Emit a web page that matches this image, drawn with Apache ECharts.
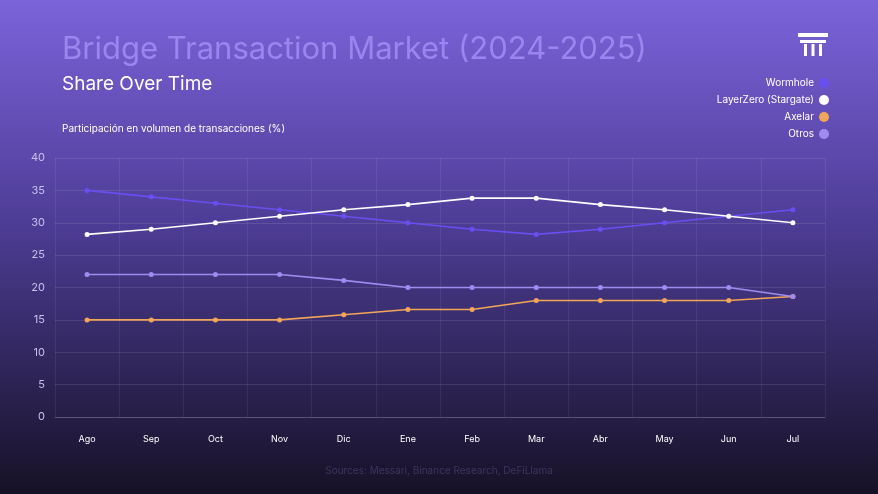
<!DOCTYPE html>
<html><head><meta charset="utf-8">
<script src="https://cdn.jsdelivr.net/npm/echarts@6/dist/echarts.min.js"></script>
<style>html,body{margin:0;padding:0;}#c{width:878px;height:494px;}</style>
</head><body><div id="c"></div>
<script>
const categories=['Ago','Sep','Oct','Nov','Dic','Ene','Feb','Mar','Abr','May','Jun','Jul'];
const wormhole=[35,34,33,32,31,30,29,28.2,29,30,31,32];
const layerzero=[28.2,29,30,31,32,32.8,33.8,33.8,32.8,32,31,30];
const axelar=[15,15,15,15,15.8,16.6,16.6,18,18,18,18,18.6];
const otros=[22,22,22,22,21.1,20,20,20,20,20,20,18.6];
const names=['Wormhole','LayerZero (Stargate)','Axelar','Otros'];
const colors=['#6a4ff0','#ffffff','#f2a65a','#a08cf0'];
const data=[wormhole,layerzero,axelar,otros];
const chart=echarts.init(document.getElementById('c'));
const ff='Inter';
chart.setOption({
  backgroundColor:new echarts.graphic.LinearGradient(0,0,0,1,[{offset:0,color:'#7b63da'},{offset:0.45,color:'#4e3d96'},{offset:1,color:'#161126'}]),
  textStyle:{fontFamily:ff},
  title:[
    {text:'Bridge Transaction Market (2024-2025)',left:57,top:29,textStyle:{color:'#9a86ee',fontSize:31,fontWeight:'normal',fontFamily:ff}},
    {text:'Share Over Time',left:57,top:70,textStyle:{color:'#ffffff',fontSize:19,fontWeight:'normal',fontFamily:ff}},
    {text:'Participación en volumen de transacciones (%)',left:57,top:119,textStyle:{color:'#ffffff',fontSize:10,fontWeight:'normal',fontFamily:ff}},
    {text:'Sources: Messari, Binance Research, DeFiLlama',left:'center',top:461,textStyle:{color:'#3e3560',fontSize:10,fontWeight:'normal',fontFamily:ff}}
  ],
  legend:{orient:'vertical',right:44,top:73,align:'right',icon:'circle',itemWidth:10,itemHeight:10,itemGap:7,
    textStyle:{color:'#ffffff',fontSize:10,fontFamily:ff},data:names},
  graphic:[
    {type:'rect',shape:{x:798,y:33,width:30,height:4},style:{fill:'#fff'}},
    {type:'rect',shape:{x:800,y:40,width:26,height:3},style:{fill:'#fff'}},
    {type:'rect',shape:{x:804,y:44,width:3,height:12},style:{fill:'#fff'}},
    {type:'rect',shape:{x:811.5,y:44,width:3,height:12},style:{fill:'#fff'}},
    {type:'rect',shape:{x:819,y:44,width:3,height:12},style:{fill:'#fff'}}
  ],
  grid:{left:55,right:53,top:158,bottom:77},
  xAxis:{type:'category',data:categories,boundaryGap:true,
    axisLine:{lineStyle:{color:'rgba(255,255,255,0.15)'}},axisTick:{show:false},
    axisLabel:{color:'#ffffff',fontSize:9,margin:18},
    splitLine:{show:true,lineStyle:{color:'rgba(255,255,255,0.07)'}}},
  yAxis:{type:'value',min:0,max:40,interval:5,
    axisLine:{show:false},axisTick:{show:false},
    axisLabel:{color:'#c9c0f0',fontSize:11,margin:10,align:'right'},
    splitLine:{lineStyle:{color:'rgba(255,255,255,0.1)'}}},
  series:names.map((n,i)=>({name:n,type:'line',data:data[i],symbol:'circle',symbolSize:5,
    itemStyle:{color:colors[i]},lineStyle:{color:colors[i],width:1.6},z:i===1?3:2}))
});
</script></body></html>
